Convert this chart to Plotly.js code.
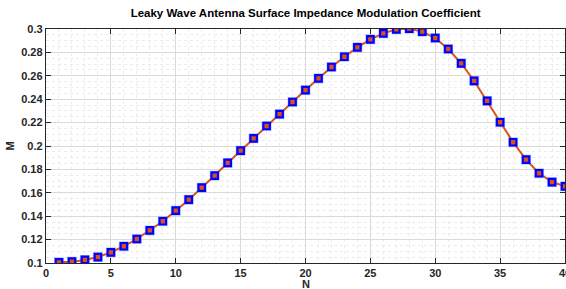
<!DOCTYPE html>
<html>
<head>
<meta charset="utf-8">
<script src="https://cdn.plot.ly/plotly-3.0.1.min.js"></script>
<style>html,body{margin:0;padding:0;background:#fff;}#chart{width:566px;height:289px;}</style>
</head>
<body>
<div id="chart"></div>
<script>
const titleText = "Leaky Wave Antenna Surface Impedance Modulation Coefficient";
const xLabel = "N";
const yLabel = "M";
const N = [1,2,3,4,5,6,7,8,9,10,11,12,13,14,15,16,17,18,19,20,21,22,23,24,25,26,27,28,29,30,31,32,33,34,35,36,37,38,39,40];
const M = [0.1006,0.1011,0.1026,0.1051,0.1091,0.1143,0.1205,0.1278,0.1357,0.1447,0.1541,0.1644,0.1746,0.1855,0.1960,0.2066,0.2171,0.2272,0.2376,0.2478,0.2578,0.2675,0.2763,0.2843,0.2912,0.2963,0.2997,0.3003,0.2977,0.2923,0.2829,0.2707,0.2556,0.2385,0.2203,0.2032,0.1883,0.1767,0.1692,0.1655];
const xTicks = [0,5,10,15,20,25,30,35,40];
const yTicks = [0.1,0.12,0.14,0.16,0.18,0.2,0.22,0.24,0.26,0.28,0.3];
const yTickText = ["0.1","0.12","0.14","0.16","0.18","0.2","0.22","0.24","0.26","0.28","0.3"];

const font = "Liberation Sans, Arial, Helvetica, sans-serif";
const traces = [
  {x:N, y:M, type:"scatter", mode:"lines", line:{color:"#D95319", width:2}, hoverinfo:"skip"},
  {x:N, y:M, type:"scatter", mode:"markers",
   marker:{symbol:"square", size:10, color:"rgba(80,110,255,0.4)", line:{width:0}}},
  {x:N, y:M, type:"scatter", mode:"markers",
   marker:{symbol:"square", size:6.5, color:"#D95319", line:{color:"#0000FF", width:2.2}}}
];
const axisCommon = {
  showline:true, linecolor:"#262626", linewidth:1.2, mirror:"ticks",
  ticks:"inside", ticklen:5, tickcolor:"#262626", tickwidth:1,
  showgrid:true, gridcolor:"#dadada", gridwidth:1, zeroline:false,
  ticklabeloverflow:"allow",
  tickfont:{family:font, size:11, color:"#262626", weight:"bold"}
};
const layout = {
  width:566, height:289,
  margin:{l:46, r:1, t:29, b:26},
  paper_bgcolor:"#ffffff", plot_bgcolor:"#ffffff",
  showlegend:false,
  title:{text:titleText, font:{family:font, size:11.5, color:"#000", weight:"bold"}, x:0.54, xanchor:"center", y:0.955, yanchor:"middle"},
  xaxis:Object.assign({}, axisCommon, {
    range:[0,40], tickvals:xTicks, ticktext:xTicks.map(String),
    minor:{dtick:1, showgrid:true, gridcolor:"#ececec", griddash:"dot", gridwidth:1, ticks:""}
  }),
  yaxis:Object.assign({}, axisCommon, {
    range:[0.1,0.3], tickvals:yTicks, ticktext:yTickText,
    minor:{dtick:0.005, tick0:0.1, showgrid:true, gridcolor:"#ececec", griddash:"dot", gridwidth:1, ticks:""},
    title:{text:yLabel, font:{family:font, size:11, color:"#262626", weight:"bold"}, standoff:4}
  }),
  annotations:[{
    text:xLabel, xref:"paper", yref:"paper", x:0.5, y:-0.088, xanchor:"center", yanchor:"middle",
    showarrow:false, font:{family:font, size:11, color:"#262626", weight:"bold"}
  }]
};
Plotly.newPlot("chart", traces, layout, {staticPlot:true, displayModeBar:false});
</script>
</body>
</html>
